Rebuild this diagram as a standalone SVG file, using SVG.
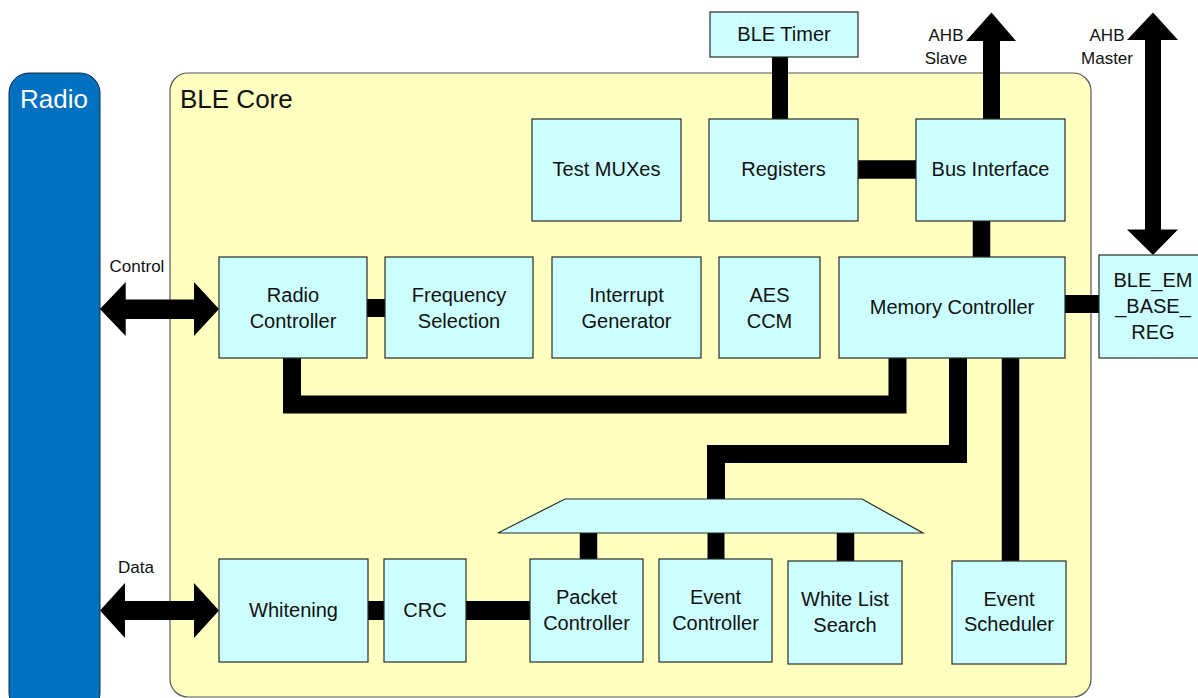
<svg xmlns="http://www.w3.org/2000/svg" width="1198" height="698" viewBox="0 0 1198 698">
<style>
text{font-family:"Liberation Sans",Arial,sans-serif;fill:#111}
.box{fill:#CCFFFF;stroke:#2a2a2a;stroke-width:1.2}
.lbl{font-size:20px;text-anchor:middle}
.small{font-size:17px;text-anchor:middle}
.bar{fill:none;stroke:#000;stroke-linejoin:miter;stroke-linecap:butt}
.arr{fill:#000}
</style>
<rect width="1198" height="698" fill="#fff"/>
<g id="radio">
<rect x="9" y="73" width="91" height="640" rx="20" fill="#0070C0" stroke="#1a2a3a" stroke-width="1"/>
<text x="20" y="108" style="font-size:26px;fill:#fff">Radio</text>
</g>
<g id="ble-core">
<rect x="170" y="73" width="921" height="624" rx="18" fill="#FFFFC0" stroke="#555" stroke-width="1.2"/>
<text x="180" y="108" style="font-size:26px">BLE Core</text>
</g>
<g id="connectors">
<path class="bar" stroke-width="16" d="M780 57V119"/>
<path class="bar" stroke-width="18.5" d="M858 169.5H916"/>
<path class="bar" stroke-width="17.5" d="M981.5 221V257"/>
<path class="bar" stroke-width="18" d="M367 308H385"/>
<path class="bar" stroke-width="18" d="M1065 304H1099"/>
<path class="bar" stroke-width="18" d="M292 358V404.5H897.5V358"/>
<path class="bar" stroke-width="18" d="M958 358V454H716V499"/>
<path class="bar" stroke-width="17.5" d="M1010.5 358V561"/>
<path class="bar" stroke-width="17.5" d="M588.5 533V559"/>
<path class="bar" stroke-width="17" d="M716 533V559"/>
<path class="bar" stroke-width="17.5" d="M845.5 533V561"/>
<path class="bar" stroke-width="19" d="M368 610.5H384"/>
<path class="bar" stroke-width="19" d="M466 610.5H530"/>
<polygon class="arr" points="100,309 125.7,282 125.7,299.5 194,299.5 194,282 219,309 194,336 194,319 125.7,319 125.7,336"/>
<polygon class="arr" points="100,610.5 125,583 125,601 194,601 194,583 219,610.5 194,638 194,620 125,620 125,638"/>
<polygon class="arr" points="991.5,12.5 1016,41 1000,41 1000,119 983,119 983,41 966,41"/>
<polygon class="arr" points="1153,12.5 1178,40 1161,40 1161,229.5 1178,229.5 1153,255 1127,229.5 1145,229.5 1145,40 1127,40"/>
<text class="small" x="137" y="272">Control</text>
<text class="small" x="136" y="573">Data</text>
<text class="small" x="946" y="41">AHB</text>
<text class="small" x="946" y="64">Slave</text>
<text class="small" x="1107" y="41">AHB</text>
<text class="small" x="1107" y="64">Master</text>
</g>
<g id="ble-timer"><rect class="box" x="710" y="12" width="148" height="45"/><text class="lbl" x="784" y="41">BLE Timer</text></g>
<g id="test-muxes"><rect class="box" x="532" y="119" width="149" height="102"/><text class="lbl" x="606.5" y="176">Test MUXes</text></g>
<g id="registers"><rect class="box" x="709" y="119" width="149" height="102"/><text class="lbl" x="783.5" y="176">Registers</text></g>
<g id="bus-interface"><rect class="box" x="916" y="119" width="149" height="102"/><text class="lbl" x="990.5" y="176">Bus Interface</text></g>
<g id="radio-controller"><rect class="box" x="219" y="257" width="148" height="101"/><text class="lbl" x="293" y="302">Radio</text><text class="lbl" x="293" y="327.5">Controller</text></g>
<g id="frequency-selection"><rect class="box" x="385" y="257" width="148" height="101"/><text class="lbl" x="459" y="302">Frequency</text><text class="lbl" x="459" y="327.5">Selection</text></g>
<g id="interrupt-generator"><rect class="box" x="552" y="257" width="149" height="101"/><text class="lbl" x="626.5" y="302">Interrupt</text><text class="lbl" x="626.5" y="327.5">Generator</text></g>
<g id="aes-ccm"><rect class="box" x="719" y="257" width="101" height="101"/><text class="lbl" x="769.5" y="302">AES</text><text class="lbl" x="769.5" y="327.5">CCM</text></g>
<g id="memory-controller"><rect class="box" x="839" y="257" width="226" height="101"/><text class="lbl" x="952" y="314">Memory Controller</text></g>
<g id="ble-em-base-reg"><rect class="box" x="1099" y="255" width="110" height="103"/><text class="lbl" x="1153" y="287">BLE_EM</text><text class="lbl" x="1153" y="313">_BASE_</text><text class="lbl" x="1153" y="339">REG</text></g>
<g id="mux"><polygon class="box" points="565,499 862,499 923,533 498,533"/></g>
<g id="whitening"><rect class="box" x="219" y="559" width="149" height="103"/><text class="lbl" x="293.5" y="617">Whitening</text></g>
<g id="crc"><rect class="box" x="384" y="559" width="82" height="103"/><text class="lbl" x="425" y="617">CRC</text></g>
<g id="packet-controller"><rect class="box" x="530" y="559" width="113" height="103"/><text class="lbl" x="586.5" y="604">Packet</text><text class="lbl" x="586.5" y="630">Controller</text></g>
<g id="event-controller"><rect class="box" x="659" y="559" width="113" height="103"/><text class="lbl" x="715.5" y="604">Event</text><text class="lbl" x="715.5" y="630">Controller</text></g>
<g id="white-list-search"><rect class="box" x="788" y="561" width="114" height="103"/><text class="lbl" x="845" y="606">White List</text><text class="lbl" x="845" y="632">Search</text></g>
<g id="event-scheduler"><rect class="box" x="952" y="561" width="114" height="103"/><text class="lbl" x="1009" y="606">Event</text><text class="lbl" x="1009" y="631">Scheduler</text></g>
</svg>
